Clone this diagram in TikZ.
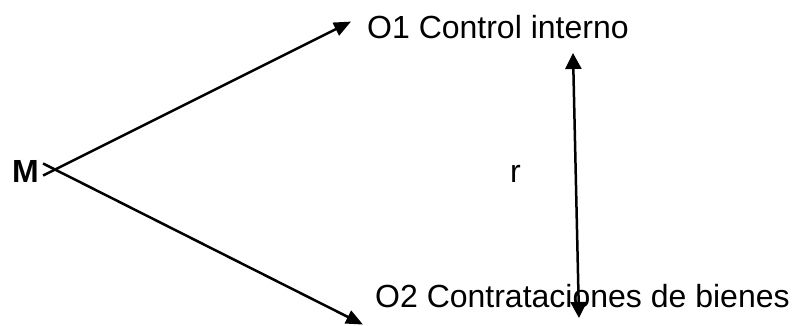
\documentclass[tikz,border=0pt]{standalone}
\usepackage{fontspec}
\setmainfont{Liberation Sans}
\usetikzlibrary{arrows.meta, positioning}
\tikzstyle{txt} = [inner sep=0pt, anchor=base west, font={\fontsize{32pt}{38pt}\selectfont}]
\tikzstyle{arrow} = [line width=2.5pt, -{Triangle[length=17pt, width=14pt]}]
\tikzstyle{darrow} = [line width=2.5pt, {Triangle[length=16pt, width=16pt]}-{Triangle[length=16pt, width=16pt]}]

\begin{document}
\begin{tikzpicture}[x=1pt, y=-1pt]
    \useasboundingbox (0,0) rectangle (792,325);
    \node (m) [txt, font={\fontsize{32pt}{38pt}\selectfont\bfseries}] at (12,182) {M};
    \node (o1) [txt] at (367,38) {O1 Control interno};
    \node (o2) [txt] at (375,307) {O2 Contrataciones de bienes};
    \node (r) [txt] at (510,182) {r};

    \coordinate[below right=4.5pt and 4pt of m.east] (m1);
    \coordinate[above right=7.5pt and 4pt of m.east] (m2);
    \coordinate[above left=5pt and 16pt of o1.west] (o1tip);
    \coordinate[below left=29pt and 12pt of o2.west] (o2tip);
    \coordinate (rtop) at (573,53);
    \coordinate (rbot) at (579,318);

    \draw [arrow] (m1) -- (o1tip);
    \draw [arrow] (m2) -- (o2tip);
    \draw [darrow] (rtop) -- (rbot);
\end{tikzpicture}
\end{document}
